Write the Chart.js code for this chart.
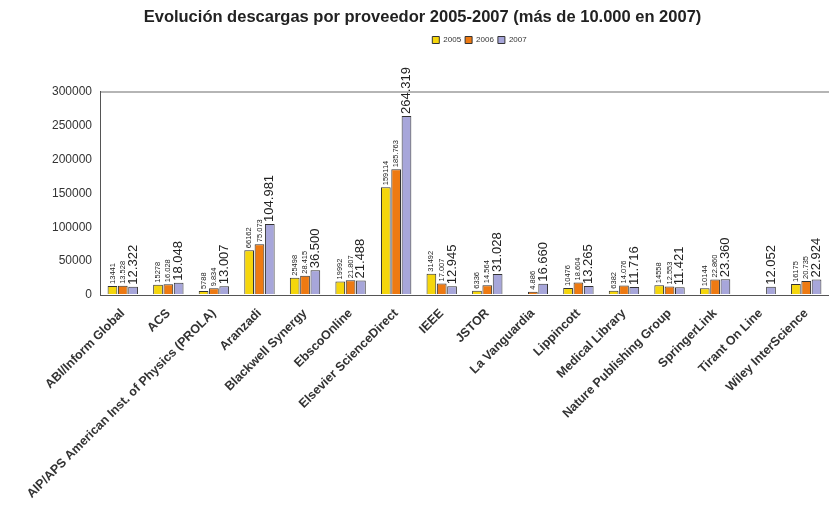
<!DOCTYPE html>
<html>
<head>
<meta charset="utf-8">
<script src="https://cdn.jsdelivr.net/npm/chart.js@4"></script>
<style>
  html, body { margin: 0; padding: 0; background: #fff; overflow: hidden; }
  #wrap { width: 829px; height: 506px; }
</style>
</head>
<body>
<div id="wrap"><canvas id="descargas" width="829" height="506"></canvas></div>
<script>
const categories = [
  'ABI/Inform Global', 'ACS', 'AIP/APS American Inst. of Physics (PROLA)', 'Aranzadi',
  'Blackwell Synergy', 'EbscoOnline', 'Elsevier ScienceDirect', 'IEEE', 'JSTOR',
  'La Vanguardia', 'Lippincott', 'Medical Library', 'Nature Publishing Group',
  'SpringerLink', 'Tirant On Line', 'Wiley InterScience'
];
const years = ['2005', '2006', '2007'];
const values2005 = [13441, 15278, 5788, 66162, 25498, 19992, 159114, 31492, 6336, null, 10476, 6382, 14558, 10144, null, 16175];
const values2006 = [13528, 16028, 9834, 75073, 28415, 21807, 185763, 17007, 14564, 4886, 18604, 14076, 12553, 22860, null, 20735];
const values2007 = [12322, 18048, 13007, 104981, 36500, 21488, 264319, 12945, 31028, 16660, 13265, 11716, 11421, 23360, 12052, 22924];
const yTicks = [0, 50000, 100000, 150000, 200000, 250000, 300000];

const fillColors = ['#f5d60c', '#ee7a12', '#a7a6da'];

// puntos como separador de miles, salvo 2005
function fmt(v, i) {
  if (i === 0) return String(v);
  return String(v).replace(/\B(?=(\d{3})+(?!\d))/g, '.');
}

const barLabels = {
  id: 'barLabels',
  afterDatasetsDraw(chart) {
    const ctx = chart.ctx;
    chart.data.datasets.forEach((ds, i) => {
      const meta = chart.getDatasetMeta(i);
      meta.data.forEach((bar, j) => {
        const v = ds.data[j];
        if (v == null) return;
        ctx.save();
        ctx.translate(bar.x, bar.y - 2);
        ctx.rotate(-Math.PI / 2);
        ctx.font = i === 2 ? '13px "Liberation Sans"' : '7.5px "Liberation Sans"';
        ctx.textAlign = 'left';
        ctx.textBaseline = 'middle';
        ctx.fillStyle = '#222';
        ctx.fillText(fmt(v, i), 0, 0);
        ctx.restore();
      });
    });
  }
};

// título y leyenda un poco desplazados respecto al centro
const moveHeader = {
  id: 'moveHeader',
  afterLayout(chart) {
    const t = chart.titleBlock;
    t.left += 8; t.right += 8;
    const lg = chart.legend;
    const dy = 43 - (lg.top + lg.height / 2);
    lg.top += dy; lg.bottom += dy;
    lg.left += 65; lg.right += 65;
  }
};

new Chart(document.getElementById('descargas'), {
  type: 'bar',
  data: {
    labels: categories,
    datasets: [values2005, values2006, values2007].map((d, i) => ({
      label: years[i],
      data: d,
      backgroundColor: fillColors[i],
      borderColor: '#333',
      borderWidth: 1,
      categoryPercentage: 0.68,
      barPercentage: 0.94
    }))
  },
  options: {
    responsive: false,
    animation: false,
    layout: { padding: 0 },
    plugins: {
      title: {
        display: true,
        text: 'Evolución descargas por proveedor 2005-2007 (más de 10.000 en 2007)',
        color: '#222',
        font: { family: '"Liberation Sans"', size: 16.5, weight: 'bold' },
        padding: { top: 8, bottom: 42 }
      },
      legend: {
        display: true,
        labels: {
          color: '#333',
          boxWidth: 7,
          boxHeight: 7,
          padding: 4,
          font: { family: '"Liberation Sans"', size: 8 }
        }
      },
      tooltip: { enabled: false }
    },
    scales: {
      x: {
        grid: { display: false },
        border: { color: '#555' },
        ticks: {
          autoSkip: false,
          maxRotation: 45,
          minRotation: 45,
          color: '#333',
          font: { family: '"Liberation Sans"', size: 12.5, weight: 'bold' }
        },
        afterFit(scale) { scale.height = 211; }
      },
      y: {
        min: 0,
        max: 300000,
        afterBuildTicks(scale) { scale.ticks = yTicks.map(v => ({ value: v })); },
        grid: {
          drawTicks: false,
          color: c => (c.tick && c.tick.value === 300000 ? '#b5b5b5' : 'rgba(0,0,0,0)'),
          lineWidth: 2
        },
        border: { color: '#555' },
        ticks: {
          padding: 8,
          color: '#333',
          font: { family: '"Liberation Sans"', size: 12 },
          callback: v => String(v)
        },
        afterFit(scale) { scale.width = 100; }
      }
    }
  },
  plugins: [barLabels, moveHeader]
});
</script>
</body>
</html>
